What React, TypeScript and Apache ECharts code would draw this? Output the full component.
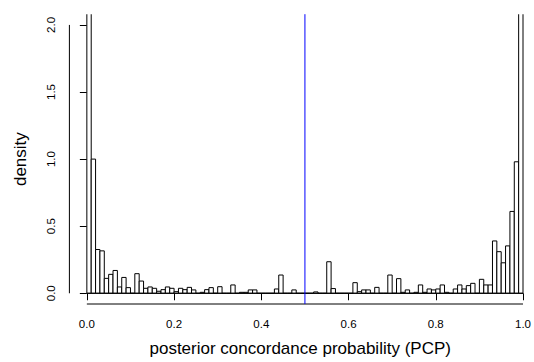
import React, { useEffect, useRef } from "react";
import * as echarts from "echarts";

// Histogram of posterior concordance probability (density scale), 100 bins of width 0.01
const binStart = 0;
const binWidth = 0.01;
const densities = [
  43.5, 1.0, 0.326, 0.316, 0.111, 0.141, 0.17, 0.047, 0.118, 0.042,
  0, 0.146, 0.091, 0.037, 0.047, 0.037, 0.015, 0.027, 0.047, 0.037,
  0.012, 0.037, 0.027, 0.044, 0.025, 0, 0.007, 0.027, 0.042, 0,
  0.049, 0, 0, 0.062, 0, 0.007, 0.007, 0.025, 0.025, 0,
  0, 0, 0, 0.032, 0.136, 0, 0, 0.025, 0, 0,
  0, 0, 0.01, 0, 0, 0.235, 0.035, 0, 0, 0,
  0, 0.079, 0.012, 0.025, 0.025, 0, 0.044, 0, 0, 0.136,
  0, 0.109, 0.007, 0.025, 0, 0.007, 0.062, 0.007, 0.032, 0.025,
  0.032, 0.062, 0.007, 0, 0.032, 0.062, 0.032, 0.057, 0.074, 0,
  0.104, 0.062, 0.062, 0.39, 0.31, 0.227, 0.353, 0.61, 0.98, 49.4,
];
const xTicks = [0, 0.2, 0.4, 0.6, 0.8, 1.0];
const yTicks = [0, 0.5, 1.0, 1.5, 2.0];
const referenceLine = 0.5;
const xTitle = "posterior concordance probability (PCP)";
const yTitle = "density";

export default function App() {
  const ref = useRef<HTMLDivElement>(null);
  useEffect(() => {
    if (!ref.current) return;
    const chart = echarts.init(ref.current, null, { renderer: "svg" });
    const xMin = -0.04;
    const xMax = 1.0183;
    const yMin = -0.08;
    const yMax = 2.08;
    const bins = densities.map((d, i) => [
      binStart + i * binWidth,
      binStart + (i + 1) * binWidth,
      d,
    ]);
    const xFirst = binStart;
    const xLast = binStart + densities.length * binWidth;
    const font = "'Liberation Sans', Arial, Helvetica, sans-serif";
    const blue = "#0000ff";
    chart.setOption({
      animation: false,
      backgroundColor: "#ffffff",
      grid: { left: 69.4, right: 0, top: 14.2, bottom: 56.2, containLabel: false },
      xAxis: {
        type: "value",
        min: xMin,
        max: xMax,
        axisLine: { show: false },
        splitLine: { show: false },
        axisTick: {
          show: true,
          length: 7,
          customValues: xTicks,
          lineStyle: { color: "#000", width: 1 },
        },
        axisLabel: {
          customValues: xTicks,
          formatter: (v: number) => v.toFixed(1),
          color: "#000",
          fontFamily: font,
          fontSize: 11.5,
          margin: 14,
        },
        name: xTitle,
        nameLocation: "middle",
        nameGap: 36,
        nameTextStyle: { color: "#000", fontFamily: font, fontSize: 17 },
      },
      yAxis: {
        type: "value",
        min: yMin,
        max: yMax,
        axisLine: { show: false },
        splitLine: { show: false },
        axisTick: {
          show: true,
          length: 7,
          customValues: yTicks,
          lineStyle: { color: "#000", width: 1 },
        },
        axisLabel: {
          customValues: yTicks,
          formatter: (v: number) => v.toFixed(1),
          rotate: 90,
          color: "#000",
          fontFamily: font,
          fontSize: 11.5,
          margin: 12,
        },
        name: yTitle,
        nameLocation: "middle",
        nameRotate: 90,
        nameGap: 40,
        nameTextStyle: { color: "#000", fontFamily: font, fontSize: 17 },
      },
      series: [
        {
          type: "custom",
          clip: true,
          silent: true,
          data: bins,
          renderItem: (params: any, api: any) => {
            const x0 = api.value(0);
            const x1 = api.value(1);
            const v = api.value(2);
            const p0 = api.coord([x0, 0]);
            const p1 = api.coord([x1, v]);
            return {
              type: "rect",
              shape: {
                x: p0[0],
                y: p1[1],
                width: p1[0] - p0[0],
                height: p0[1] - p1[1],
              },
              style: { fill: "#ffffff", stroke: "#000000", lineWidth: 1 },
            };
          },
        },
        {
          type: "line",
          silent: true,
          symbol: "none",
          clip: false,
          data: [
            [xFirst, 0],
            [xLast, 0],
          ],
          itemStyle: { color: "#000" },
          lineStyle: { color: "#000", width: 1 },
        },
        {
          type: "line",
          silent: true,
          symbol: "none",
          clip: false,
          data: [
            [referenceLine, yMin],
            [referenceLine, yMax],
          ],
          itemStyle: { color: blue },
          lineStyle: { color: blue, width: 1 },
          z: 5,
        },
        {
          type: "line",
          silent: true,
          symbol: "none",
          clip: false,
          data: [
            [xTicks[0], yMin],
            [xTicks[xTicks.length - 1], yMin],
          ],
          itemStyle: { color: "#000" },
          lineStyle: { color: "#000", width: 1 },
        },
        {
          type: "line",
          silent: true,
          symbol: "none",
          clip: false,
          data: [
            [xMin, yTicks[0]],
            [xMin, yTicks[yTicks.length - 1]],
          ],
          itemStyle: { color: "#000" },
          lineStyle: { color: "#000", width: 1 },
        },
      ],
    });
    return () => chart.dispose();
  }, []);
  return <div ref={ref} style={{ width: 534, height: 362, position: "absolute", left: 0, top: 0 }} />;
}
